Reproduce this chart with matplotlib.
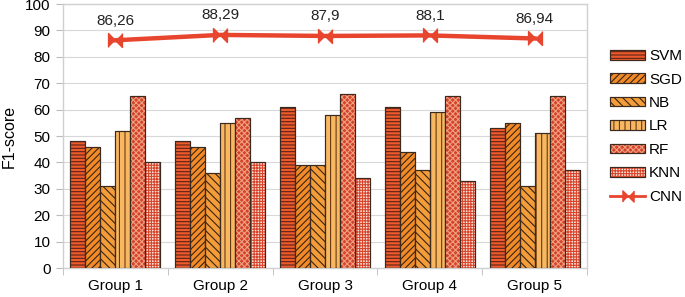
import numpy as np
import matplotlib
matplotlib.use("Agg")
import matplotlib.pyplot as plt
from matplotlib.patches import Patch
from matplotlib.lines import Line2D
from matplotlib.legend_handler import HandlerTuple

# data
groups = ["Group 1", "Group 2", "Group 3", "Group 4", "Group 5"]
models = ["SVM", "SGD", "NB", "LR", "RF", "KNN"]
svm = [48, 48, 61, 61, 53]
sgd = [46, 46, 39, 44, 55]
nb = [31, 36, 39, 37, 31]
lr = [52, 55, 58, 59, 51]
rf = [65, 57, 66, 65, 65]
knn = [40, 40, 34, 33, 37]
cnn = [86.26, 88.29, 87.9, 88.1, 86.94]
cnn_labels = ["86,26", "88,29", "87,9", "88,1", "86,94"]

# (face colour, hatch, hatch colour)
styles = [
    ("#EE5A2C", "-----", "#5a2415"),
    ("#F28A28", "/////", "#3a2412"),
    ("#F39C3A", "\\\\\\\\", "#3a2412"),
    ("#F8B862", "|||", "#6a3a12"),
    ("#D4422A", "xxxxxx", "#EFA080"),
    ("#FBE3D8", "++++++", "#D9452C"),
]
edge = "#3a2a20"

plt.rcParams["font.family"] = ["Liberation Sans", "DejaVu Sans"]
plt.rcParams["hatch.linewidth"] = 0.8

fig = plt.figure(figsize=(6.85, 2.97), dpi=100)
ax = fig.add_axes([63 / 685, 1 - 268 / 297, (587 - 63) / 685, (268 - 4) / 297])

x = np.arange(len(groups))
width = 0.143
handles = []
for i, (name, vals) in enumerate(zip(models, [svm, sgd, nb, lr, rf, knn])):
    face, hatch, hcol = styles[i]
    pos = x + (i - 2.5) * width
    ax.bar(pos, vals, width, color=face, edgecolor=edge, linewidth=0.8, zorder=2)
    ax.bar(pos, vals, width, color="none", edgecolor=hcol, hatch=hatch, linewidth=0, zorder=3)
    ax.bar(pos, vals, width, color="none", edgecolor=edge, linewidth=0.8, zorder=4)
    p1 = Patch(facecolor=face, edgecolor=edge, linewidth=0.8)
    p2 = Patch(facecolor="none", edgecolor=hcol, hatch=hatch, linewidth=0)
    p3 = Patch(facecolor="none", edgecolor=edge, linewidth=0.8)
    handles.append((p1, p2, p3))

# CNN line with bowtie markers
bowtie = [(-1, -1), (-1, 1), (1, -1), (1, 1)]
ax.plot(x, cnn, color="#E8452E", linewidth=3.2, marker=bowtie, markersize=10,
        markeredgecolor="#E8452E", zorder=5)
for xi, yi, lab in zip(x, cnn, cnn_labels):
    ax.annotate(lab, (xi, yi), xytext=(0, 9), textcoords="offset points",
                ha="center", va="bottom", fontsize=11, color="#222222")
cnn_handle = Line2D([], [], color="#E8452E", linewidth=2, marker=bowtie, markersize=8,
                    markeredgecolor="#E8452E")

ax.set_ylim(0, 100)
ax.set_xlim(-0.5, len(groups) - 0.5)
ax.set_yticks(range(0, 101, 10))
ax.set_xticks(x)
ax.set_xticklabels(groups)
ax.set_xticks(np.arange(-0.5, len(groups), 1), minor=True)
ax.tick_params(axis="x", which="major", length=0, labelsize=11, pad=8)
ax.tick_params(axis="x", which="minor", length=5, color="#bbbbbb")
ax.tick_params(axis="y", length=5, color="#bbbbbb", labelsize=11, pad=4)
ax.set_ylabel("F1-score", fontsize=11.5, labelpad=6)
ax.grid(axis="y", color="#d8d8d8", linewidth=0.8, zorder=0)
ax.set_axisbelow(True)
for s in ax.spines.values():
    s.set_color("#d0d0d0")
    s.set_linewidth(1.0)

fig.legend(handles + [cnn_handle], models + ["CNN"],
           handler_map={tuple: HandlerTuple(ndivide=1, pad=0)},
           loc="center left", bbox_to_anchor=(610 / 685, 1 - 126.5 / 297),
           frameon=False, borderpad=0, borderaxespad=0, fontsize=11,
           handlelength=2.3, handleheight=0.6, labelspacing=0.62, handletextpad=0.25)

fig.savefig("out.png", dpi=100)
